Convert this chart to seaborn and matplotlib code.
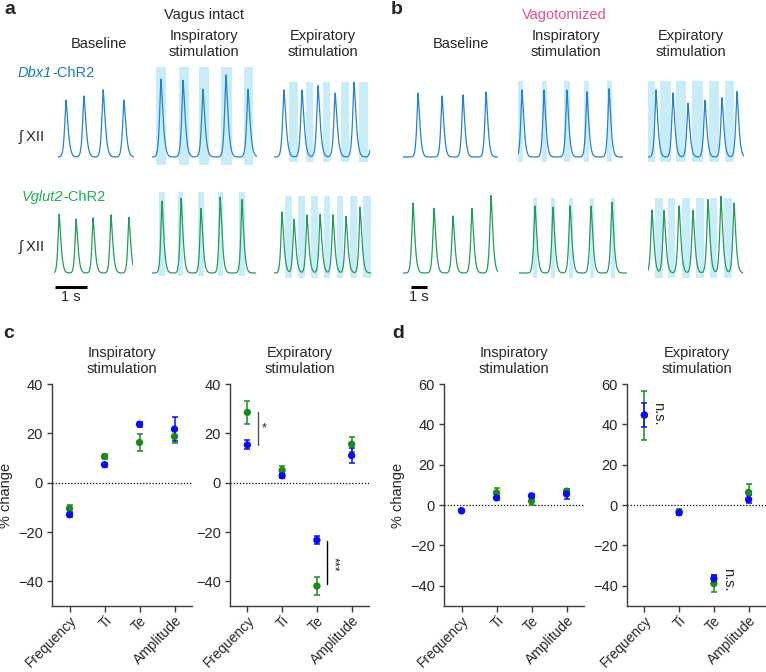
"""
Optogenetic stimulation of Dbx1 / Vglut2 neurons: XII traces and % change summary
- a/b: integrated XII traces with stimulation windows (vagus intact / vagotomized)
- c/d: % change of breathing parameters for both lines
"""

import numpy as np
import matplotlib.pyplot as plt
import seaborn as sns

# -----------------------------
# Data: integrated XII bursts (peak times in s, amplitudes in a.u.)
# -----------------------------
# panel a, vagus intact, Dbx1-ChR2
a_dbx1_base_t = [0.25, 0.81, 1.41, 2.06]
a_dbx1_base_h = [0.95, 1.02, 1.12, 0.95]
a_dbx1_insp_t = [0.28, 0.97, 1.59, 2.31, 3.0]
a_dbx1_insp_h = [1.30, 1.28, 1.13, 1.37, 1.13]
a_dbx1_insp_stim = [(0.12, 0.44), (0.84, 1.16), (1.47, 1.78), (2.16, 2.50), (2.88, 3.16)]
a_dbx1_exp_t = [0.31, 0.875, 1.375, 1.91, 2.5, 3.1]
a_dbx1_exp_h = [1.12, 1.12, 1.19, 1.07, 1.25, 0.9]
a_dbx1_exp_stim = [(0.47, 0.75), (1.0, 1.22), (1.53, 1.75), (2.09, 2.34), (2.66, 2.94)]

# panel a, vagus intact, Vglut2-ChR2
a_vglut_base_t = [0.16, 0.69, 1.22, 1.78, 2.34]
a_vglut_base_h = [0.98, 0.90, 0.92, 0.97, 0.93]
a_vglut_insp_t = [0.31, 0.91, 1.53, 2.13, 2.81]
a_vglut_insp_h = [1.20, 1.25, 1.08, 1.27, 1.23]
a_vglut_insp_stim = [(0.22, 0.41), (0.81, 0.97), (1.44, 1.63), (2.06, 2.22), (2.72, 2.91)]
a_vglut_exp_t = [0.25, 0.625, 1.03, 1.44, 1.84, 2.25, 2.69]
a_vglut_exp_h = [1.02, 0.90, 0.97, 0.98, 0.97, 0.95, 1.10]
a_vglut_exp_stim = [(0.34, 0.56), (0.75, 0.97), (1.16, 1.38), (1.56, 1.75),
                    (1.97, 2.16), (2.38, 2.59), (2.78, 3.03)]

# panel b, vagotomized, Dbx1-ChR2
b_dbx1_base_t = [0.94, 2.44, 3.75, 5.19]
b_dbx1_base_h = [1.07, 1.02, 1.04, 1.09]
b_dbx1_insp_t = [0.25, 1.625, 3.06, 4.31, 5.69]
b_dbx1_insp_h = [1.12, 1.12, 1.12, 1.09, 1.14]
b_dbx1_insp_stim = [(0.0, 0.31), (1.5, 1.81), (2.875, 3.25), (4.125, 4.44), (5.56, 5.875)]
b_dbx1_exp_t = [0.5, 1.56, 2.5, 3.56, 4.625, 5.56]
b_dbx1_exp_h = [1.12, 1.07, 0.90, 0.95, 0.99, 1.09]
b_dbx1_exp_stim = [(0.0, 0.44), (0.75, 1.44), (1.75, 2.375), (2.75, 3.44), (3.81, 4.44), (4.81, 5.375)]

# panel b, vagotomized, Vglut2-ChR2
b_vglut_base_t = [0.625, 1.94, 3.125, 4.31, 5.5]
b_vglut_base_h = [1.17, 1.08, 0.95, 1.08, 1.30]
b_vglut_insp_t = [1.0, 2.125, 3.19, 4.5, 5.81]
b_vglut_insp_h = [1.12, 1.10, 1.12, 1.12, 1.18]
b_vglut_insp_stim = [(0.875, 1.125), (2.0, 2.25), (3.125, 3.375), (4.44, 4.69), (5.75, 6.0)]
b_vglut_exp_t = [0.25, 1.0, 1.94, 2.81, 3.75, 4.56, 5.375]
b_vglut_exp_h = [1.05, 1.05, 1.12, 1.05, 1.23, 1.28, 1.17]
b_vglut_exp_stim = [(0.44, 0.94), (1.25, 1.69), (2.125, 2.625), (3.0, 3.5),
                    (3.875, 4.31), (4.75, 5.25)]

# -----------------------------
# Data: % change (mean, error)
# -----------------------------
params = ["Frequency", "Ti", "Te", "Amplitude"]

c_insp_dbx1 = [-13.0, 7.3, 23.7, 21.7]
c_insp_dbx1_err = [1.0, 0.8, 1.0, 4.8]
c_insp_vglut = [-10.5, 10.6, 16.3, 18.7]
c_insp_vglut_err = [1.6, 1.0, 3.6, 2.5]
c_exp_dbx1 = [15.3, 2.8, -23.3, 11.0]
c_exp_dbx1_err = [1.8, 1.0, 1.6, 3.2]
c_exp_vglut = [28.5, 5.0, -41.9, 15.6]
c_exp_vglut_err = [4.6, 1.8, 3.5, 3.0]

d_insp_dbx1 = [-2.8, 3.6, 4.6, 5.5]
d_insp_dbx1_err = [0.6, 1.0, 1.0, 2.5]
d_insp_vglut = [-2.8, 6.1, 2.0, 6.9]
d_insp_vglut_err = [0.5, 2.5, 1.8, 1.2]
d_exp_dbx1 = [44.7, -3.8, -36.4, 2.8]
d_exp_dbx1_err = [6.1, 1.0, 1.6, 2.0]
d_exp_vglut = [44.5, -3.2, -38.9, 6.3]
d_exp_vglut_err = [12.0, 1.5, 4.4, 4.0]

# -----------------------------
# Style
# -----------------------------
sns.set_style("ticks")
plt.rcParams['font.family'] = ['Liberation Sans', 'DejaVu Sans']
plt.rcParams['font.size'] = 10.5
plt.rcParams['axes.unicode_minus'] = True

FS = 10.5
TRACE_BLUE = "#2283d3"
TRACE_GREEN = "#1f9d5b"
BAND = "#c9ecf9"
PT_BLUE = "#0c0cf0"
PT_GREEN = "#1b8a1b"
AXIS_GREY = "#3c3c3c"

W, H = 766, 672
fig = plt.figure(figsize=(W / 100, H / 100), dpi=100)


def px_axes(x0, y0, x1, y1):
    return fig.add_axes([x0 / W, 1 - y1 / H, (x1 - x0) / W, (y1 - y0) / H])


def ftext(x, y, s, **kw):
    kw.setdefault('ha', 'center')
    kw.setdefault('va', 'center')
    kw.setdefault('fontsize', FS)
    return fig.text(x / W, 1 - y / H, s, **kw)


def burst_trace(tt, peaks, amps, rise, decay):
    y = np.zeros_like(tt)
    for tp, h in zip(peaks, amps):
        s = np.where(tt < tp, rise, decay)
        y += h * np.exp(-(np.abs(tt - tp) / s) ** 1.4)
    return y


# row extents (px) and y-limits (a.u.)
rows = {1: (60, 172, -0.25, 1.617), 2: (185, 285, -0.2, 1.467)}


def draw_trace(x0, row, pxps, dur, peaks, amps, stims, band, color, rise, decay):
    y0, y1, ylo, yhi = rows[row]
    ax = px_axes(x0, y0, x0 + dur * pxps, y1)
    for s0, s1 in stims:
        ax.axvspan(s0, s1, ymin=band[0], ymax=band[1], color=BAND, lw=0, zorder=0)
    tt = np.linspace(0, dur, 900)
    sns.lineplot(x=tt, y=burst_trace(tt, peaks, amps, rise, decay), ax=ax,
                 color=color, lw=0.9, zorder=2)
    ax.set_xlim(0, dur)
    ax.set_ylim(ylo, yhi)
    ax.axis('off')
    return ax


# -----------------------------
# Panel a: vagus intact (32 px per second)
# -----------------------------
draw_trace(58, 1, 32, 2.375, a_dbx1_base_t, a_dbx1_base_h, [], (0, 1), TRACE_BLUE, 0.06, 0.09)
draw_trace(152, 1, 32, 3.28, a_dbx1_insp_t, a_dbx1_insp_h, a_dbx1_insp_stim,
           (0.06, 0.94), TRACE_BLUE, 0.06, 0.09)
draw_trace(274, 1, 32, 3.0, a_dbx1_exp_t, a_dbx1_exp_h, a_dbx1_exp_stim,
           (0.09, 0.80), TRACE_BLUE, 0.06, 0.09)
ax_sb_a = draw_trace(54, 2, 32, 2.47, a_vglut_base_t, a_vglut_base_h, [], (0, 1), TRACE_GREEN, 0.05, 0.08)
draw_trace(152, 2, 32, 3.25, a_vglut_insp_t, a_vglut_insp_h, a_vglut_insp_stim,
           (0.09, 0.93), TRACE_GREEN, 0.05, 0.08)
draw_trace(274, 2, 32, 3.03, a_vglut_exp_t, a_vglut_exp_h, a_vglut_exp_stim,
           (0.07, 0.89), TRACE_GREEN, 0.05, 0.08)

# -----------------------------
# Panel b: vagotomized (16 px per second)
# -----------------------------
draw_trace(403, 1, 16, 5.94, b_dbx1_base_t, b_dbx1_base_h, [], (0, 1), TRACE_BLUE, 0.11, 0.16)
draw_trace(518, 1, 16, 6.56, b_dbx1_insp_t, b_dbx1_insp_h, b_dbx1_insp_stim,
           (0.09, 0.81), TRACE_BLUE, 0.11, 0.16)
draw_trace(648, 1, 16, 6.0, b_dbx1_exp_t, b_dbx1_exp_h, b_dbx1_exp_stim,
           (0.09, 0.81), TRACE_BLUE, 0.11, 0.16)
ax_sb_b = draw_trace(403, 2, 16, 5.94, b_vglut_base_t, b_vglut_base_h, [], (0, 1), TRACE_GREEN, 0.11, 0.16)
draw_trace(519, 2, 16, 6.75, b_vglut_insp_t, b_vglut_insp_h, b_vglut_insp_stim,
           (0.07, 0.87), TRACE_GREEN, 0.11, 0.16)
draw_trace(648, 2, 16, 5.94, b_vglut_exp_t, b_vglut_exp_h, b_vglut_exp_stim,
           (0.07, 0.87), TRACE_GREEN, 0.11, 0.16)

# 1 s scale bars
for ax, t0 in [(ax_sb_a, 0.03), (ax_sb_b, 0.5)]:
    ax.plot([t0, t0 + 1], [-0.02, -0.02], color='k', lw=2.2, solid_capstyle='butt',
            transform=ax.get_xaxis_transform(), clip_on=False)
    ax.text(t0 + 0.5, -0.12, "1 s", ha='center', va='center', fontsize=FS,
            transform=ax.get_xaxis_transform())

# headers for a and b
ftext(4, 10, "a", fontsize=14, fontweight='bold', ha='left')
ftext(391, 10, "b", fontsize=14, fontweight='bold', ha='left')
ftext(204, 15, "Vagus intact")
ftext(564, 15, "Vagotomized", color="#e6508f")
for x, s in [(99, "Baseline"), (204, "Inspiratory\nstimulation"), (323, "Expiratory\nstimulation"),
             (461, "Baseline"), (566, "Inspiratory\nstimulation"), (691, "Expiratory\nstimulation")]:
    ftext(x, 44, s, linespacing=1.15)

ftext(52, 73, "Dbx1", ha='right', style='italic', color="#1a78c8")
ftext(52, 73, "-ChR2", ha='left', color="#1a78c8")
ftext(63, 197, "Vglut2", ha='right', style='italic', color="#1fae55")
ftext(63, 197, "-ChR2", ha='left', color="#1fae55")
ftext(19, 137, "∫ XII", ha='left')
ftext(19, 247, "∫ XII", ha='left')


# -----------------------------
# Panels c and d: % change
# -----------------------------
def change_panel(ax, dbx1, dbx1_err, vglut, vglut_err, ylim, yticks, title, ylabel):
    pos = np.arange(len(params))
    ax.axhline(0, ls=(0, (1, 1.5)), color='k', lw=0.9, zorder=1)
    for vals, errs, col in [(vglut, vglut_err, PT_GREEN), (dbx1, dbx1_err, PT_BLUE)]:
        ax.errorbar(pos, vals, yerr=errs, fmt='none', ecolor=col, elinewidth=1.1,
                    capsize=2.3, capthick=1.1, zorder=2)
        sns.scatterplot(x=pos, y=vals, color=col, s=28, edgecolor='none', ax=ax,
                        zorder=3, legend=False)
    ax.set_xlim(-0.5, 3.5)
    ax.set_ylim(*ylim)
    ax.set_yticks(yticks)
    ax.set_xticks(pos)
    ax.set_xticklabels(params, rotation=45, ha='right', rotation_mode='anchor')
    ax.set_title(title, fontsize=FS, pad=8, linespacing=1.15)
    ax.set_ylabel(ylabel, fontsize=FS, labelpad=4)
    ax.set_xlabel("")
    sns.despine(ax=ax)
    for side in ['left', 'bottom']:
        ax.spines[side].set_color(AXIS_GREY)
        ax.spines[side].set_linewidth(1.0)
    ax.tick_params(axis='x', length=4.5, width=1.0, color=AXIS_GREY, pad=1, labelsize=10)
    ax.tick_params(axis='y', length=3.5, width=1.0, color=AXIS_GREY, pad=3, labelsize=FS)
    ax.patch.set_alpha(0)


ax_c1 = px_axes(52, 384, 192, 606)
change_panel(ax_c1, c_insp_dbx1, c_insp_dbx1_err, c_insp_vglut, c_insp_vglut_err,
             (-50, 40), [-40, -20, 0, 20, 40], "Inspiratory\nstimulation", "% change")
ax_c2 = px_axes(230, 384, 369, 606)
change_panel(ax_c2, c_exp_dbx1, c_exp_dbx1_err, c_exp_vglut, c_exp_vglut_err,
             (-50, 40), [-40, -20, 0, 20, 40], "Expiratory\nstimulation", "")
ax_d1 = px_axes(444, 384, 584, 606)
change_panel(ax_d1, d_insp_dbx1, d_insp_dbx1_err, d_insp_vglut, d_insp_vglut_err,
             (-50, 60), [-40, -20, 0, 20, 40, 60], "Inspiratory\nstimulation", "% change")
ax_d2 = px_axes(627, 384, 766, 606)
change_panel(ax_d2, d_exp_dbx1, d_exp_dbx1_err, d_exp_vglut, d_exp_vglut_err,
             (-50, 60), [-40, -20, 0, 20, 40, 60], "Expiratory\nstimulation", "")

# significance marks
ax_c2.plot([0.3, 0.3], [c_exp_dbx1[0], 28.7], color='#555555', lw=1.0)
ax_c2.text(0.48, 22.0, "*", ha='center', va='center', fontsize=9)
ax_c2.plot([2.3, 2.3], [-23.8, -41.2], color='k', lw=1.0)
ax_c2.text(2.47, -33.0, "***", ha='center', va='center', fontsize=9, rotation=-90)
ax_d2.text(0.4, 45.5, "n.s.", ha='center', va='center', fontsize=FS, rotation=-90)
ax_d2.text(2.4, -37.0, "n.s.", ha='center', va='center', fontsize=FS, rotation=-90)

ftext(3, 333, "c", fontsize=14, fontweight='bold', ha='left')
ftext(392, 333, "d", fontsize=14, fontweight='bold', ha='left')

fig.savefig("out.png", dpi=100)
